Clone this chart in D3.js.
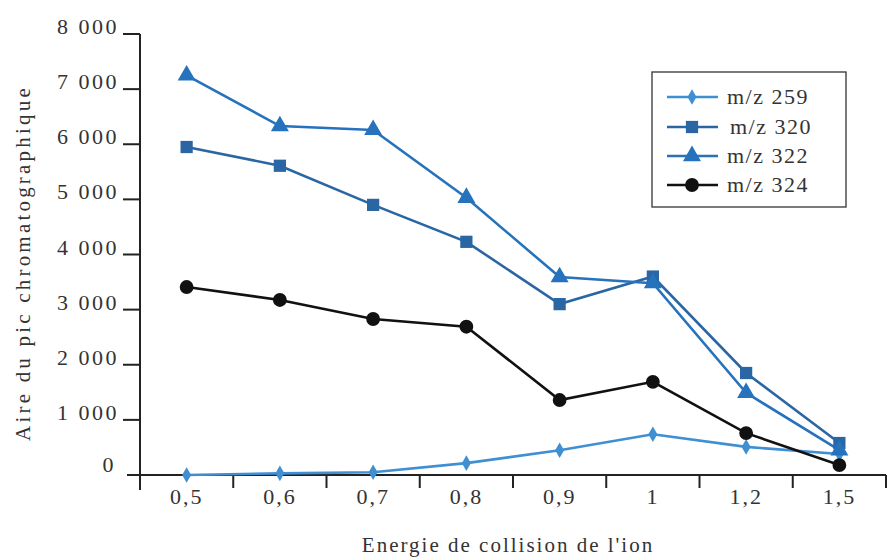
<!DOCTYPE html>
<html><head><meta charset="utf-8">
<script src="https://cdn.jsdelivr.net/npm/d3@7"></script>
<style>
html,body{margin:0;padding:0;background:#fff;}
</style></head>
<body>
<svg id="chart" width="888" height="557" font-family="'Liberation Serif', 'Times New Roman', serif"></svg>
<script>
const categories = ["0,5","0,6","0,7","0,8","0,9","1","1,2","1,5"];
const yTicks = [0,1000,2000,3000,4000,5000,6000,7000,8000];
const seriesNames = ["m/z 259","m/z 320","m/z 322","m/z 324"];
const mz259 = [0, 30, 50, 215, 450, 740, 510, 380];
const mz320 = [5950, 5610, 4900, 4230, 3100, 3600, 1850, 580];
const mz322 = [7250, 6330, 6260, 5030, 3590, 3480, 1490, 450];
const mz324 = [3410, 3175, 2830, 2690, 1360, 1690, 760, 180];

const series = [
  {name: seriesNames[0], values: mz259, color: "#3f8fd2", symbol: d3.symbolDiamond, size: 70},
  {name: seriesNames[1], values: mz320, color: "#2a66a3", symbol: d3.symbolSquare, size: 150},
  {name: seriesNames[2], values: mz322, color: "#2672bd", symbol: d3.symbolTriangle, size: 140},
  {name: seriesNames[3], values: mz324, color: "#111111", symbol: d3.symbolCircle, size: 150}
];

const FONT = "'Liberation Serif', 'Times New Roman', serif";
const TXT = "#333";
const svg = d3.select("#chart");
const x = d3.scaleBand().domain(categories).range([140, 886]).padding(0);
const y = d3.scaleLinear().domain([0, 8000]).range([475, 34]);
const fmt = v => v === 0 ? "0" : d3.format(",")(v).replace(/,/g, " ");

// y axis
const yAxis = svg.append("g");
yAxis.append("line").attr("x1", 140).attr("x2", 140).attr("y1", y(8000)).attr("y2", 490)
  .attr("stroke", "#222").attr("stroke-width", 2);
yTicks.forEach(t => {
  if (t > 0) yAxis.append("line").attr("x1", 123).attr("x2", 140).attr("y1", y(t)).attr("y2", y(t))
    .attr("stroke", "#222").attr("stroke-width", 2);
  yAxis.append("text").attr("x", t === 0 ? 116 : 119).attr("y", y(t) + (t === 0 ? -3 : 0))
    .attr("text-anchor", "end").attr("font-family", FONT).attr("fill", TXT)
    .attr("font-size", 22).attr("letter-spacing", "2.5px")
    .text(fmt(t));
});

// x axis
const xAxis = svg.append("g");
xAxis.append("line").attr("x1", 127).attr("x2", 886).attr("y1", 475).attr("y2", 475)
  .attr("stroke", "#222").attr("stroke-width", 2);
categories.forEach((c, i) => {
  const bx = x(c) + x.bandwidth();
  xAxis.append("line").attr("x1", bx).attr("x2", bx).attr("y1", 475).attr("y2", 488)
    .attr("stroke", "#222").attr("stroke-width", 2);
  xAxis.append("text").attr("x", x(c) + x.bandwidth() / 2).attr("y", 504)
    .attr("text-anchor", "middle").attr("font-family", FONT).attr("fill", TXT)
    .attr("font-size", 22).attr("letter-spacing", "2px").text(c);
});

// titles
svg.append("text").attr("x", 508).attr("y", 552).attr("text-anchor", "middle")
  .attr("font-family", FONT).attr("fill", TXT)
  .attr("font-size", 21).attr("letter-spacing", "2px").text("Energie de collision de l'ion");
svg.append("text").attr("transform", "translate(30,263) rotate(-90)").attr("text-anchor", "middle")
  .attr("font-family", FONT).attr("fill", TXT)
  .attr("font-size", 21).attr("letter-spacing", "3.2px").text("Aire du pic chromatographique");

// lines & markers
const line = d3.line().x((d, i) => x(categories[i]) + x.bandwidth() / 2).y(d => y(d));
const drawOrder = [0, 3, 1, 2];
drawOrder.forEach(k => {
  const s = series[k];
  svg.append("path").datum(s.values).attr("d", line).attr("fill", "none")
    .attr("stroke", s.color).attr("stroke-width", 2.6);
});
drawOrder.forEach(k => {
  const s = series[k];
  svg.append("g").selectAll("path").data(s.values).join("path")
    .attr("transform", (d, i) => `translate(${x(categories[i]) + x.bandwidth() / 2},${y(d)})`)
    .attr("d", d3.symbol().type(s.symbol).size(s.size)).attr("fill", s.color);
});

// legend
const lg = svg.append("g");
lg.append("rect").attr("x", 652).attr("y", 72).attr("width", 194).attr("height", 135)
  .attr("fill", "#fff").attr("stroke", "#333").attr("stroke-width", 1.3);
const rowY = [97, 127, 156, 185];
series.forEach((s, i) => {
  lg.append("line").attr("x1", 667).attr("x2", 718).attr("y1", rowY[i]).attr("y2", rowY[i])
    .attr("stroke", s.color).attr("stroke-width", 2.6);
  lg.append("path").attr("transform", `translate(692,${rowY[i]})`)
    .attr("d", d3.symbol().type(s.symbol).size(s.size)).attr("fill", s.color);
  lg.append("text").attr("x", i === 1 ? 730 : 727).attr("y", rowY[i] + 7)
    .attr("font-family", FONT).attr("fill", TXT).attr("font-size", 22)
    .attr("letter-spacing", "1.5px").text(s.name);
});
</script>
</body></html>
